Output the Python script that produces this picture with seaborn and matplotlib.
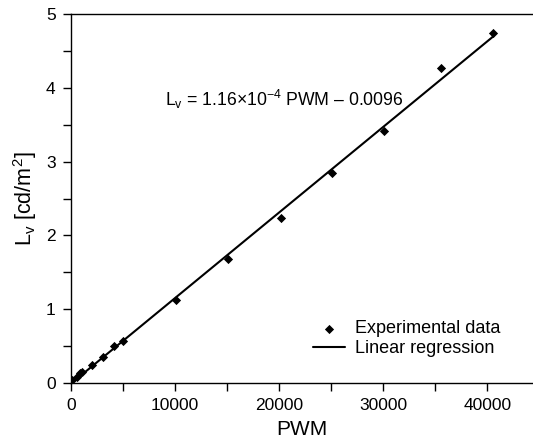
import matplotlib
matplotlib.use('Agg')
import matplotlib.pyplot as plt
import seaborn as sns
import pandas as pd
from matplotlib.ticker import MultipleLocator

pwm = [150, 550, 850, 1050, 2000, 3100, 4100, 5000, 10100, 15100, 20200, 25100, 30100, 35600, 40600]
lum = [0.04, 0.08, 0.13, 0.15, 0.25, 0.35, 0.50, 0.57, 1.12, 1.68, 2.23, 2.84, 3.41, 4.27, 4.74]

# regression coefficients shown on the chart
slope = 1.16e-4
intercept = -0.0096

sns.set_style('ticks')
plt.rcParams['font.family'] = ['Liberation Sans', 'DejaVu Sans']
plt.rcParams['mathtext.fontset'] = 'custom'
plt.rcParams['mathtext.rm'] = 'Liberation Sans'
plt.rcParams['mathtext.it'] = 'Liberation Sans'
for key in ['text.color', 'axes.labelcolor', 'xtick.color', 'ytick.color', 'axes.edgecolor']:
    plt.rcParams[key] = 'black'

data = pd.DataFrame({'PWM': pwm, 'Lv': lum})
fit = pd.DataFrame({'PWM': [0, max(pwm)]})
fit['Lv'] = slope * fit['PWM'] + intercept

fig = plt.figure(figsize=(5.33, 4.42), dpi=100)
ax = fig.add_axes([0.133, 0.1335, 0.867, 0.8345])

sns.lineplot(data=fit, x='PWM', y='Lv', color='black', linewidth=1.5,
             label='Linear regression', ax=ax)
sns.scatterplot(data=data, x='PWM', y='Lv', marker='D', s=22, color='black',
                edgecolor='black', linewidth=0, label='Experimental data', ax=ax,
                zorder=3)

ax.set_xlim(0, 44400)
ax.set_ylim(0, 5)
ax.xaxis.set_major_locator(MultipleLocator(10000))
ax.xaxis.set_minor_locator(MultipleLocator(5000))
ax.yaxis.set_major_locator(MultipleLocator(1))
ax.yaxis.set_minor_locator(MultipleLocator(0.5))
ax.tick_params(which='both', direction='out', length=6, width=1,
               labelsize=12.5, pad=5)
ax.spines['right'].set_visible(False)
for s in ['left', 'bottom', 'top']:
    ax.spines[s].set_linewidth(1)

ax.set_xlabel('PWM', fontsize=15, labelpad=5)
ax.set_ylabel(r'L$_\mathrm{v}$ [cd/m$^2$]', fontsize=15.5, labelpad=5)

ax.text(0.203, 0.77, 'L$_\\mathrm{v}$ = 1.16×10$^{-4}$ PWM – 0.0096',
        transform=ax.transAxes, fontsize=12.7, ha='left', va='center')

handles, labels = ax.get_legend_handles_labels()
order = [labels.index('Experimental data'), labels.index('Linear regression')]
ax.legend([handles[i] for i in order], [labels[i] for i in order],
          loc='lower right', bbox_to_anchor=(0.93, 0.07), frameon=False,
          fontsize=13, handlelength=1.8, handletextpad=0.55, labelspacing=0.15,
          borderaxespad=0, borderpad=0)

fig.savefig('out.png', dpi=100)
